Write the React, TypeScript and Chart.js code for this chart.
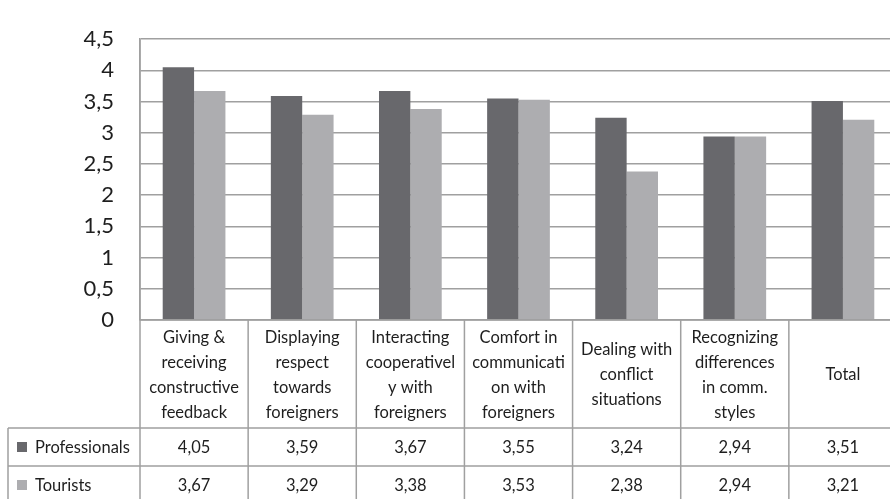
import React, { useEffect, useRef } from "react";
import { Chart, registerables } from "chart.js";

Chart.register(...registerables);

const categories: string[][] = [
  ["Giving &", "receiving", "constructive", "feedback"],
  ["Displaying", "respect", "towards", "foreigners"],
  ["Interacting", "cooperativel", "y with", "foreigners"],
  ["Comfort in", "communicati", "on with", "foreigners"],
  ["Dealing with", "conflict", "situations"],
  ["Recognizing", "differences", "in comm.", "styles"],
  ["Total"],
];
const professionals = [4.05, 3.59, 3.67, 3.55, 3.24, 2.94, 3.51];
const tourists = [3.67, 3.29, 3.38, 3.53, 2.38, 2.94, 3.21];
const seriesNames = ["Professionals", "Tourists"];
const seriesColors = ["#68686c", "#adadb0"];
const yTicks = [0, 0.5, 1, 1.5, 2, 2.5, 3, 3.5, 4, 4.5];

const LINE = "#a0a0a0";
const TEXT = "#1e1e1e";
const FONT = "Lato, 'Open Sans', sans-serif";

const fmt = (v: number) => v.toFixed(2).replace(".", ",");

const tablePlugin = {
  id: "dataTable",
  afterDraw(chart: any) {
    const ctx = chart.ctx as CanvasRenderingContext2D;
    const xs = chart.scales.x;
    const area = chart.chartArea;
    const n = categories.length;
    const w = (area.right - area.left) / n;
    const W = chart.width;
    const H = chart.height;
    const top = area.bottom;
    const row1 = top + 108;
    const row2 = row1 + 38;
    const tableLeft = 8;
    ctx.save();
    ctx.strokeStyle = LINE;
    ctx.lineWidth = 1.5;
    ctx.beginPath();
    ctx.moveTo(area.left, top);
    ctx.lineTo(W, top);
    ctx.moveTo(tableLeft, row1);
    ctx.lineTo(W, row1);
    ctx.moveTo(tableLeft, row2);
    ctx.lineTo(W, row2);
    ctx.moveTo(tableLeft, row1);
    ctx.lineTo(tableLeft, H);
    for (let k = 0; k <= n; k++) {
      const x = area.left + k * w;
      ctx.moveTo(x, k === 0 ? area.top : top);
      ctx.lineTo(x, H);
    }
    ctx.stroke();

    ctx.fillStyle = TEXT;
    ctx.font = `16.5px ${FONT}`;
    ctx.textAlign = "center";
    ctx.textBaseline = "middle";
    const hdrCenter = (top + row1) / 2;
    const lh = 25;
    categories.forEach((lines, i) => {
      const cx = xs.getPixelForValue(i);
      const y0 = hdrCenter - ((lines.length - 1) * lh) / 2;
      lines.forEach((ln, j) => ctx.fillText(ln, cx, y0 + j * lh + 1));
      ctx.fillText(fmt(professionals[i]), cx, (row1 + row2) / 2 + 1);
      ctx.fillText(fmt(tourists[i]), cx, row2 + 19 + 1);
    });
    const rowsY = [(row1 + row2) / 2, row2 + 19];
    seriesNames.forEach((name, i) => {
      ctx.fillStyle = seriesColors[i];
      ctx.fillRect(17, rowsY[i] - 5, 10, 10);
      ctx.fillStyle = TEXT;
      ctx.textAlign = "left";
      ctx.fillText(name, 35, rowsY[i] + 1);
    });
    ctx.restore();
  },
};

export default function App() {
  const ref = useRef<HTMLCanvasElement>(null);
  useEffect(() => {
    const canvas = ref.current;
    if (!canvas) return;
    const chart = new Chart(canvas, {
      type: "bar",
      data: {
        labels: categories.map((c) => c.join(" ")),
        datasets: [
          {
            label: seriesNames[0],
            data: professionals,
            backgroundColor: seriesColors[0],
            categoryPercentage: 0.58,
            barPercentage: 1.0,
          },
          {
            label: seriesNames[1],
            data: tourists,
            backgroundColor: seriesColors[1],
            categoryPercentage: 0.58,
            barPercentage: 1.0,
          },
        ],
      },
      options: {
        responsive: false,
        maintainAspectRatio: false,
        animation: false,
        layout: { padding: { top: 20, bottom: 179, right: 2, left: 0 } },
        plugins: { legend: { display: false }, tooltip: { enabled: false } },
        scales: {
          x: { display: false },
          y: {
            min: 0,
            max: 4.5,
            afterFit: (s: any) => {
              s.width = 140;
            },
            afterBuildTicks: (s: any) => {
              s.ticks = yTicks.map((v) => ({ value: v }));
            },
            grid: { color: LINE, lineWidth: 1.5, drawTicks: false },
            border: { color: LINE, width: 1.5 },
            ticks: {
              padding: 26,
              color: TEXT,
              font: { family: FONT, size: 22 },
              callback: (v: any) => String(v).replace(".", ","),
            },
          },
        },
      },
      plugins: [tablePlugin],
    });
    return () => chart.destroy();
  }, []);
  return (
    <div
      style={{
        position: "absolute",
        left: 0,
        top: 0,
        width: 890,
        height: 499,
        overflow: "hidden",
        background: "#fff",
      }}
    >
      <canvas ref={ref} width={899} height={499} />
    </div>
  );
}
